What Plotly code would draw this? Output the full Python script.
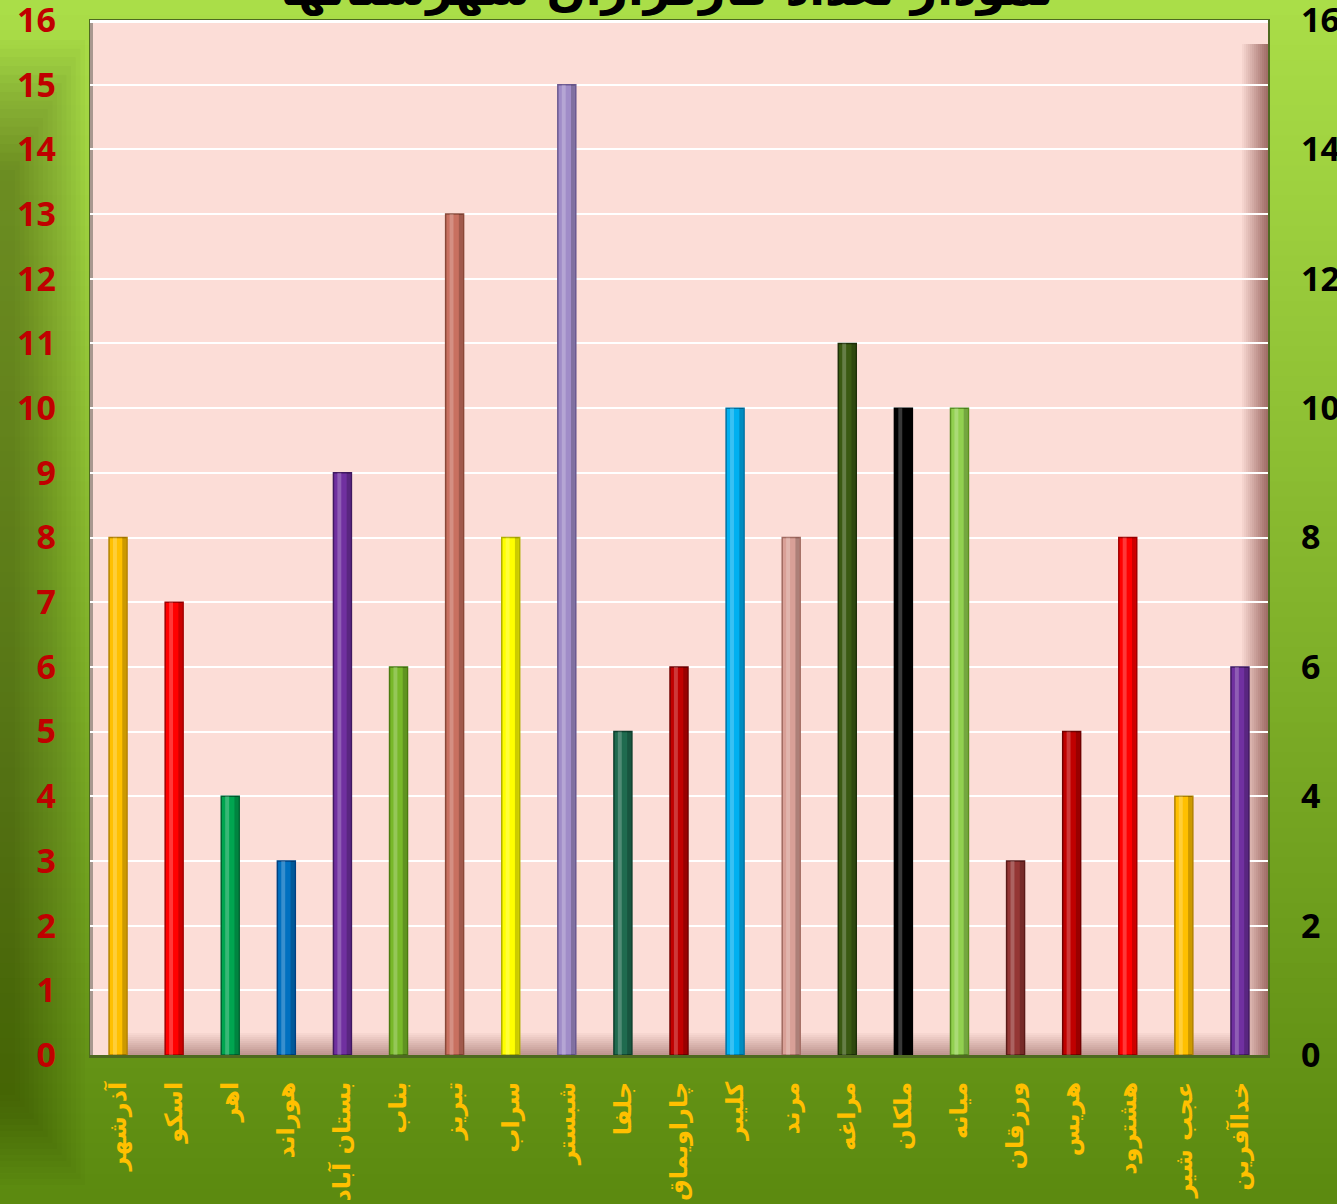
import plotly.graph_objects as go

categories = ["آذرشهر", "اسکو", "اهر", "هوراند", "بستان آباد", "بناب", "تبریز", "سراب", "شبستر",
              "جلفا", "چاراویماق", "کلیبر", "مرند", "مراغه", "ملکان", "میانه", "ورزقان", "هریس",
              "هشترود", "عجب شیر", "خداآفرین"]
values = [8, 7, 4, 3, 9, 6, 13, 8, 15, 5, 6, 10, 8, 11, 10, 10, 3, 5, 8, 4, 6]
bar_colors = ["#FFC000", "#FF0000", "#00A550", "#0070C0", "#7030A0", "#78B82A", "#C87060",
              "#FFFF00", "#A08CC8", "#1F6B4F", "#C00000", "#00B0F0", "#D9A097", "#3A5A12",
              "#000000", "#92D050", "#943634", "#C00000", "#FF0000", "#FFC000", "#7030A0"]
edge_colors = ["#B08000", "#A00000", "#006030", "#004080", "#401860", "#4A7A10", "#8A4838",
               "#B0B000", "#6A5890", "#0E3F2D", "#700000", "#0070A0", "#A06A60", "#1E3008",
               "#000000", "#5A9020", "#5A1A18", "#700000", "#A00000", "#B08000", "#401860"]
left_ticks = list(range(0, 17))
right_ticks = list(range(0, 17, 2))
title_text = "نمودار تعداد کارگزاران شهرستانها"

W, H = 1337, 1204
ml, mr, mt, mb = 90, 69, 20, 149
pw, ph = W - ml - mr, H - mt - mb

def px2x(p):
    return (p - ml) / pw

def py2y(p):
    return (H - mb - p) / ph

shapes = []
# background vertical gradient
n = 80
top = (170, 222, 72)
bot = (92, 138, 16)
for i in range(n):
    t = i / (n - 1)
    c = tuple(int(top[k] + (bot[k] - top[k]) * t) for k in range(3))
    y0 = i * H / n
    y1 = (i + 1) * H / n + 1
    shapes.append(dict(type="rect", xref="paper", yref="paper", layer="below",
                       x0=px2x(0), x1=px2x(W), y0=py2y(y1), y1=py2y(y0),
                       line=dict(width=0), fillcolor="rgb(%d,%d,%d)" % c))
# left dark vignette (soft, built from many faint layers)
m = 16
for i in range(m):
    t = i / (m - 1)
    w = 85 - 70 * t
    ya = 40 + 130 * t
    yb = 1185 - 90 * t
    shapes.append(dict(type="rect", xref="paper", yref="paper", layer="below",
                       x0=px2x(0), x1=px2x(w), y0=py2y(yb), y1=py2y(ya),
                       line=dict(width=0), fillcolor="rgba(30,50,0,0.028)"))
# plot area shadow border
shapes.append(dict(type="rect", xref="paper", yref="paper", layer="below",
                   x0=px2x(89), x1=px2x(1270), y0=py2y(1058), y1=py2y(19),
                   line=dict(width=0), fillcolor="#4E6A20"))
# pink plot area
shapes.append(dict(type="rect", xref="paper", yref="paper", layer="below",
                   x0=0, x1=1, y0=0, y1=1, line=dict(width=0), fillcolor="#FCDDD7"))
# left edge grey
shapes.append(dict(type="rect", xref="paper", yref="paper", layer="below",
                   x0=0, x1=px2x(93), y0=0, y1=1, line=dict(width=0), fillcolor="#A89890"))
# right bevel
for i in range(14):
    t = i / 13
    c = (int(252 - 90 * t), int(221 - 110 * t), int(215 - 110 * t))
    x0 = 1240 + i * 2
    shapes.append(dict(type="rect", xref="paper", yref="paper", layer="below",
                       x0=px2x(x0), x1=px2x(x0 + 2), y0=py2y(1055), y1=py2y(44),
                       line=dict(width=0), fillcolor="rgb(%d,%d,%d)" % c))
# bottom bevel
for i in range(12):
    t = i / 11
    c = (int(252 - 60 * t), int(221 - 70 * t), int(215 - 70 * t))
    y0 = 1031 + i * 2
    shapes.append(dict(type="rect", xref="paper", yref="paper", layer="below",
                       x0=px2x(114), x1=px2x(1240), y0=py2y(y0 + 2), y1=py2y(y0),
                       line=dict(width=0), fillcolor="rgb(%d,%d,%d)" % c))
# top light edge
shapes.append(dict(type="rect", xref="paper", yref="paper", layer="below",
                   x0=0, x1=1, y0=py2y(23), y1=1, line=dict(width=0), fillcolor="#FFFFFF"))

fig = go.Figure()
fig.add_trace(go.Bar(
    x=categories, y=values, width=0.32,
    marker=dict(color=bar_colors, line=dict(color=edge_colors, width=1.5)),
    hoverinfo="x+y", showlegend=False))
# highlight stripe
fig.add_trace(go.Bar(
    x=categories, y=values, width=0.07, offset=-0.09,
    marker=dict(color="rgba(255,255,255,0.22)", line=dict(width=0)),
    hoverinfo="skip", showlegend=False))
# shade stripe
fig.add_trace(go.Bar(
    x=categories, y=values, width=0.07, offset=0.075,
    marker=dict(color="rgba(0,0,0,0.2)", line=dict(width=0)),
    hoverinfo="skip", showlegend=False))
fig.add_trace(go.Scatter(
    x=categories, y=values, yaxis="y2", mode="markers",
    marker=dict(opacity=0), hoverinfo="skip", showlegend=False))

fig.update_layout(
    width=W, height=H,
    margin=dict(l=ml, r=mr, t=mt, b=mb, pad=0, autoexpand=False),
    paper_bgcolor="#7FB830",
    plot_bgcolor="#FCDDD7",
    barmode="overlay",
    shapes=shapes,
    xaxis=dict(
        type="category", categoryorder="array", categoryarray=categories,
        tickangle=-90, showgrid=False, zeroline=False, showline=False, ticks="",
        tickfont=dict(family="DejaVu Sans", size=24, color="#FFC000", weight="bold"),
        ticklabelstandoff=21, range=[-0.5, len(categories) - 0.5], automargin=False,
        ticklabeloverflow="allow"),
    yaxis=dict(
        range=[0, 16.0001], tickvals=left_ticks, showgrid=True, gridcolor="#FFFFFF", gridwidth=2,
        zeroline=False, showline=False, ticks="", automargin=False, ticklabeloverflow="allow",
        tickfont=dict(family="Open Sans", size=34, color="#C00000", weight="bold"),
        ticklabelstandoff=33),
    yaxis2=dict(
        range=[0, 16.0001], tickvals=right_ticks, overlaying="y", side="right", showgrid=False,
        zeroline=False, showline=False, ticks="", automargin=False, ticklabeloverflow="allow",
        tickfont=dict(family="Open Sans", size=34, color="#000000", weight="bold"),
        ticklabelstandoff=32),
    annotations=[dict(
        text="<b>" + title_text + "</b>", xref="paper", yref="paper", x=0.49, y=1,
        xanchor="center", yanchor="bottom", yshift=2, showarrow=False,
        font=dict(family="DejaVu Sans", size=46, color="#000000"))],
)

fig.write_html("out.html", config={"displayModeBar": False},
               post_script="document.body.style.margin='0';document.body.style.overflow='hidden';")
